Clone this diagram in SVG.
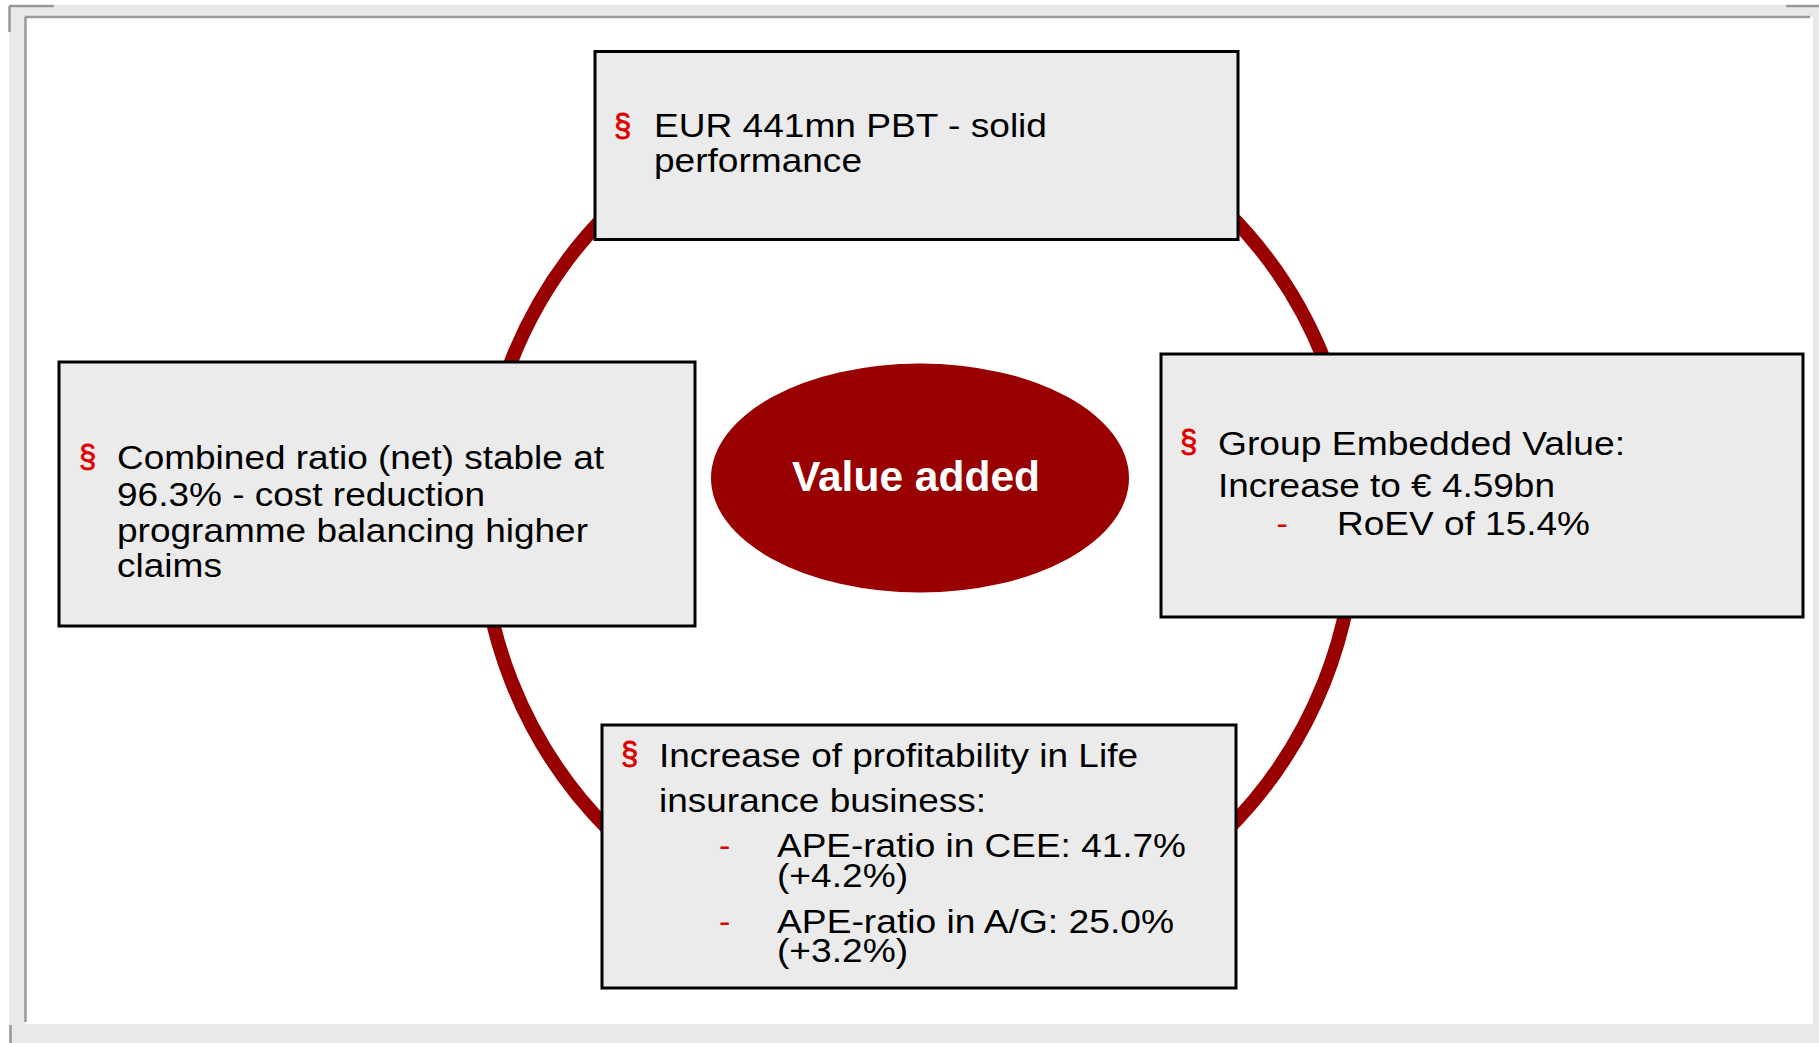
<svg xmlns="http://www.w3.org/2000/svg" width="1819" height="1043" viewBox="0 0 1819 1043">
<style>
.frame-line{stroke:#999999;stroke-width:2.5;fill:none}
.box{fill:#ebebeb;stroke:#000000;stroke-width:3}
.t{font-family:"Liberation Sans",Arial,Helvetica,sans-serif;font-size:34px;fill:#000000}
.bul{font-family:"Liberation Sans",Arial,Helvetica,sans-serif;font-size:31px;fill:#dd0000;stroke:#dd0000;stroke-width:0.8}
.dash{font-family:"Liberation Sans",Arial,Helvetica,sans-serif;font-size:34px;fill:#dd0000}
.ring{fill:none;stroke:#990000;stroke-width:14}
.center-label{font-family:"Liberation Sans",Arial,Helvetica,sans-serif;font-size:42.5px;font-weight:bold;fill:#ffffff}
</style>
<rect x="0" y="0" width="1819" height="1043" fill="#ffffff"/>
<g id="frame">
<rect x="9" y="5" width="1810" height="1038" fill="#e9e9e9"/>
<rect x="25" y="17" width="1790" height="1007" fill="#ffffff"/>
<line class="frame-line" x1="25" y1="17" x2="1810" y2="17"/>
<line class="frame-line" x1="25.5" y1="17" x2="25.5" y2="1022"/>
<line x1="1814" y1="17" x2="1814" y2="1024" stroke="#dddddd" stroke-width="1.5"/>
<line class="frame-line" x1="9" y1="6" x2="54" y2="6"/>
<line class="frame-line" x1="9.5" y1="6" x2="9.5" y2="32"/>
<line class="frame-line" x1="1786" y1="6" x2="1819" y2="6"/>
<line class="frame-line" x1="10.5" y1="1025" x2="10.5" y2="1043"/>
</g>
<g id="connectors">
<circle id="cycle-ring" class="ring" cx="918" cy="521" r="437"/>
</g>
<g id="node-top">
<rect class="box" x="595" y="51.5" width="643" height="188"/>
<text class="bul" x="614" y="136">§</text>
<text class="t" x="654" y="137" textLength="393" lengthAdjust="spacingAndGlyphs">EUR 441mn PBT - solid</text>
<text class="t" x="654" y="172" textLength="208" lengthAdjust="spacingAndGlyphs">performance</text>
</g>
<g id="node-left">
<rect class="box" x="59" y="362" width="636" height="264"/>
<text class="bul" x="79" y="467">§</text>
<text class="t" x="117" y="469" textLength="487" lengthAdjust="spacingAndGlyphs">Combined ratio (net) stable at</text>
<text class="t" x="117" y="506" textLength="368" lengthAdjust="spacingAndGlyphs">96.3% - cost reduction</text>
<text class="t" x="117" y="542" textLength="471" lengthAdjust="spacingAndGlyphs">programme balancing higher</text>
<text class="t" x="117" y="577" textLength="105" lengthAdjust="spacingAndGlyphs">claims</text>
</g>
<g id="node-right">
<rect class="box" x="1161" y="354" width="642" height="263"/>
<text class="bul" x="1180" y="452">§</text>
<text class="t" x="1218" y="455" textLength="407" lengthAdjust="spacingAndGlyphs">Group Embedded Value:</text>
<text class="t" x="1218" y="497" textLength="337" lengthAdjust="spacingAndGlyphs">Increase to € 4.59bn</text>
<text class="dash" x="1276.5" y="535">-</text>
<text class="t" x="1337" y="535" textLength="253" lengthAdjust="spacingAndGlyphs">RoEV of 15.4%</text>
</g>
<g id="node-bottom">
<rect class="box" x="602" y="725" width="634" height="263"/>
<text class="bul" x="621" y="764">§</text>
<text class="t" x="659" y="767" textLength="479" lengthAdjust="spacingAndGlyphs">Increase of profitability in Life</text>
<text class="t" x="659" y="812" textLength="327" lengthAdjust="spacingAndGlyphs">insurance business:</text>
<text class="dash" x="719" y="857">-</text>
<text class="t" x="777" y="857" textLength="409" lengthAdjust="spacingAndGlyphs">APE-ratio in CEE: 41.7%</text>
<text class="t" x="777" y="887" textLength="131" lengthAdjust="spacingAndGlyphs">(+4.2%)</text>
<text class="dash" x="719" y="933">-</text>
<text class="t" x="777" y="933" textLength="397" lengthAdjust="spacingAndGlyphs">APE-ratio in A/G: 25.0%</text>
<text class="t" x="777" y="962" textLength="131" lengthAdjust="spacingAndGlyphs">(+3.2%)</text>
</g>
<g id="node-center">
<ellipse cx="920" cy="478" rx="209" ry="114.5" fill="#990000"/>
<text class="center-label" x="916" y="491" text-anchor="middle">Value added</text>
</g>
</svg>
